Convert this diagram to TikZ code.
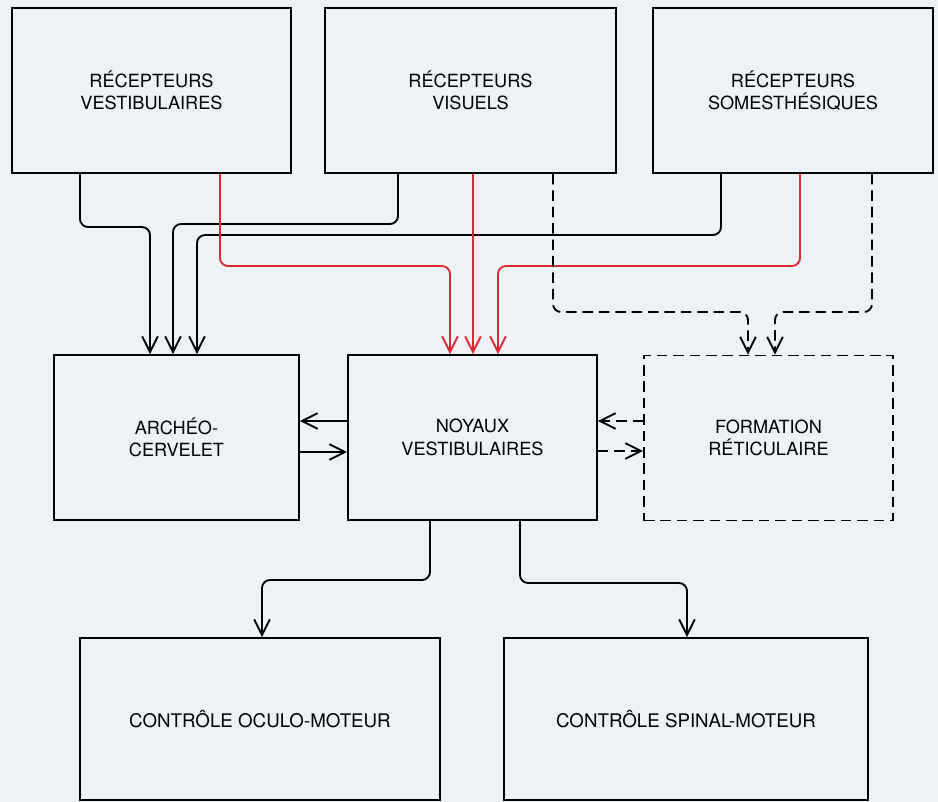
\documentclass[tikz,border=0pt]{standalone}
\usepackage{fontspec}
\setmainfont{TeX Gyre Heros}
\usetikzlibrary{arrows.meta,calc,positioning}
\definecolor{paper}{RGB}{237,242,247}
\definecolor{redline}{RGB}{222,40,52}
\tikzset{
  box/.style={draw,rectangle,line width=1.6pt,minimum height=4.95cm,align=center,
    font=\fontsize{15.5}{19}\selectfont},
  dbox/.style={box,dash pattern=on 9pt off 5pt},
  link/.style={line width=1.6pt,rounded corners=0.24cm,-{Straight Barb[length=0.47cm,width=0.47cm]}},
  dlink/.style={link,dash pattern=on 9pt off 5pt},
  rlink/.style={link,draw=redline}
}
\begin{document}
\begin{tikzpicture}[x=0.03cm,y=-0.03cm]
  \fill[paper] (0,0) rectangle (938,802);
  \useasboundingbox (0,0) rectangle (938,802);

  % receptors
  \node[box,minimum width=8.37cm] (rvest) at (151.5,90.5) {RÉCEPTEURS\\VESTIBULAIRES};
  \node[box,minimum width=8.73cm] (rvis) at (470.5,90.5) {RÉCEPTEURS\\VISUELS};
  \node[box,minimum width=8.40cm] (rsom) at (793,90.5) {RÉCEPTEURS\\SOMESTHÉSIQUES};

  % centres
  \node[box,minimum width=7.35cm] (archeo) at (176.5,437.5) {ARCHÉO-\\CERVELET};
  \node[box,minimum width=7.47cm] (noyaux) at (472.5,437.5) {NOYAUX\\VESTIBULAIRES};
  \node[dbox,minimum width=7.47cm] (form) at (768.5,438) {FORMATION\\RÉTICULAIRE};

  % outputs
  \node[box,minimum width=10.8cm,minimum height=4.86cm,font=\fontsize{16}{19}\selectfont] (oculo) at (260,719) {CONTRÔLE OCULO-MOTEUR};
  \node[box,minimum width=10.92cm,minimum height=4.86cm,font=\fontsize{16}{19}\selectfont] (spinal) at (686,719) {CONTRÔLE SPINAL-MOTEUR};

  % to archeo-cervelet
  \draw[link] (rvest.south -| 80,0) |- (150,227) -- (archeo.north -| 150,0);
  \draw[link] (rvis.south -| 398,0) |- (173,224) -- (archeo.north -| 173,0);
  \draw[link] (rsom.south -| 721,0) |- (197,235) -- (archeo.north -| 197,0);

  % to noyaux (red)
  \draw[rlink] (rvest.south -| 220,0) |- (450,266) -- (noyaux.north -| 450,0);
  \draw[rlink] (rvis.south -| 473,0) -- (noyaux.north -| 473,0);
  \draw[rlink] (rsom.south -| 800,0) |- (498,266) -- (noyaux.north -| 498,0);

  % to formation (dashed)
  \draw[dlink] (rvis.south -| 553,0) |- (748,312) -- (form.north -| 748,0);
  \draw[dlink] (rsom.south -| 872,0) |- (775,312) -- (form.north -| 775,0);

  % between centres
  \draw[link] (noyaux.west |- 0,421) -- (archeo.east |- 0,421);
  \draw[link] (archeo.east |- 0,452) -- (noyaux.west |- 0,452);
  \draw[dlink] (form.west |- 0,421) -- (noyaux.east |- 0,421);
  \draw[dlink] (noyaux.east |- 0,451) -- (form.west |- 0,451);

  % outputs
  \draw[link] (noyaux.south -| 430,0) |- (262,580) -- (oculo.north -| 262,0);
  \draw[link] (noyaux.south -| 520,0) |- (687,583) -- (spinal.north -| 687,0);
\end{tikzpicture}
\end{document}
